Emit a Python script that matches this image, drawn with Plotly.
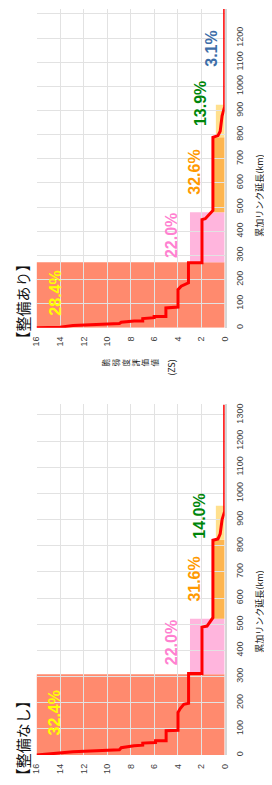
import plotly.graph_objects as go

# The page body has an 8px default margin, so the figure is drawn 8px in
# from the window edge: size it to fill the remaining 264x777 window area.
OFF = 8
W, H = 272 - OFF, 785 - OFF

# ---------------- data ----------------
zs_ticks = [0, 2, 4, 6, 8, 10, 12, 14, 16]
km_ticks = [0, 100, 200, 300, 400, 500, 600, 700, 800, 900, 1000, 1100, 1200, 1300]

# 整備あり (top chart): cumulative link length (km) vs vulnerability ZS
ari_zs = [16, 14, 12.9, 8.95, 8.8, 7.7, 6.97, 6.97, 6.0, 6.0, 5.0, 5.0, 3.97, 3.97,
          3.7, 3.43, 3.08, 3.08, 1.93, 1.93, 1.65, 1.0, 1.0, 0.57, 0.38, 0.22, 0.0, 0.0]
ari_km = [0, 2.5, 9.4, 17.6, 23, 28.5, 28.5, 38, 42, 47, 47, 82, 86, 158,
          172, 179, 186, 269, 269, 448, 452, 486, 789, 796, 814, 878, 916, 1340]

# 整備なし (bottom chart)
nashi_zs = [16, 14, 12.9, 8.95, 8.8, 7.7, 6.97, 6.97, 5.88, 5.88, 4.98, 4.98, 3.97, 3.97,
            3.78, 3.48, 3.07, 3.07, 1.93, 1.93, 1.5, 1.0, 1.0, 0.57, 0.38, 0.22, 0.0, 0.0]
nashi_km = [0, 6.4, 12.7, 20, 28, 35.5, 38, 45.7, 48, 54.6, 54.6, 92.8, 95, 163,
            178, 194, 198, 312, 312, 489, 493, 525, 821, 826, 846, 900, 931, 1340]

# shaded bands: km from, km to, ZS width
ari_band_km0 = [0, 271, 479, 789]
ari_band_km1 = [271, 479, 789, 924]
nashi_band_km0 = [0, 309, 521, 823]
nashi_band_km1 = [309, 521, 823, 953]
band_zs = [16, 2.95, 1.0, 0.75]

# percentage labels
ari_pct = ["28.4%", "22.0%", "32.6%", "13.9%", "3.1%"]
ari_pct_zs = [14.4, 4.5, 2.6, 2.07, 1.14]
ari_pct_km = [143, 383, 643, 928, 1157]
nashi_pct = ["32.4%", "22.0%", "31.6%", "14.0%"]
nashi_pct_zs = [14.5, 4.57, 2.6, 2.1]
nashi_pct_km = [160, 431, 671, 915]

titles = ["【整備あり】", "【整備なし】"]

# ---------------- styles ----------------
band_colors = ["#FF8A6E", "#FFB5DD", "#FDB550", "#FFE08E"]
pct_colors = ["#FFFF00", "#FF80D0", "#FF9900", "#00860A", "#3D6DA8"]
grid_c = "#E2E2E2"
tick_font = dict(family="Liberation Sans, Arial", size=9, color="#404040")

# pixel layout (window coordinates of the reference)
x_left, x_right = 32.5, 228.0
top_y0, top_scale = 327.6, 0.2420    # km 0 row and px per km (top chart)
bot_y0, bot_y1 = 756.0, 404.5        # bottom chart, km 0 and km 1340 rows


def py(p):
    return 1 - (p - OFF) / H


def px(p):
    return (p - OFF) / W


top_km_max = (top_y0 - OFF) / top_scale   # top chart reaches the top edge

fig = go.Figure()

fig.add_trace(go.Scatter(x=ari_zs, y=ari_km, mode="lines",
                         line=dict(color="#FF0000", width=3), xaxis="x", yaxis="y",
                         showlegend=False, hoverinfo="skip"))
fig.add_trace(go.Scatter(x=nashi_zs, y=nashi_km, mode="lines",
                         line=dict(color="#FF0000", width=3), xaxis="x2", yaxis="y2",
                         showlegend=False, hoverinfo="skip"))

shapes = []
for xr, yr, k0s, k1s in [("x", "y", ari_band_km0, ari_band_km1),
                         ("x2", "y2", nashi_band_km0, nashi_band_km1)]:
    for k0, k1, w, c in zip(k0s, k1s, band_zs, band_colors):
        shapes.append(dict(type="rect", xref=xr, yref=yr, x0=w, x1=0, y0=k0, y1=k1,
                           fillcolor=c, line=dict(width=0), layer="below"))

annotations = []
for xr, yr, labels, zs, km in [("x", "y", ari_pct, ari_pct_zs, ari_pct_km),
                               ("x2", "y2", nashi_pct, nashi_pct_zs, nashi_pct_km)]:
    for i, (t, z, k) in enumerate(zip(labels, zs, km)):
        annotations.append(dict(xref=xr, yref=yr, x=z, y=k, text=t, textangle=-90,
                                showarrow=False, xanchor="center", yanchor="middle",
                                font=dict(family="Liberation Sans, Arial", size=16,
                                          color=pct_colors[i], weight="bold")))

# chart titles
for t, cy in zip(titles, [301, 739]):
    annotations.append(dict(xref="paper", yref="paper", x=px(17.5), y=py(cy), text=t,
                            textangle=-90, showarrow=False, xanchor="center", yanchor="middle",
                            font=dict(family="Noto Sans CJK JP", size=15, color="#111111")))

# km axis titles
for cy in [195, 612]:
    annotations.append(dict(xref="paper", yref="paper", x=px(264), y=py(cy),
                            text="累加リンク延長(km)", textangle=-90, showarrow=False,
                            xanchor="center", yanchor="middle",
                            font=dict(family="Noto Sans CJK JP", size=9, color="#222222")))

# ZS axis titles (the bottom chart's sits below the window edge, as in the reference)
for off, extra in [(0, 0), (bot_y0 - top_y0, 6)]:
    annotations.append(dict(xref="paper", yref="paper", x=px(130), y=py(362 + off + extra),
                            text="<br>".join("脆弱度評価値"), textangle=-90, showarrow=False,
                            xanchor="center", yanchor="middle",
                            font=dict(family="Noto Sans CJK JP", size=7.5, color="#222222")))
    annotations.append(dict(xref="paper", yref="paper", x=px(172), y=py(367 + off),
                            text="(ZS)", textangle=-90, showarrow=False,
                            xanchor="center", yanchor="middle",
                            font=dict(family="Noto Sans CJK JP", size=9, color="#222222")))

xcommon = dict(domain=[px(x_left), px(x_right)], range=[16, 0], tickvals=zs_ticks,
               tickangle=-90, showgrid=True, gridcolor=grid_c, gridwidth=1,
               zeroline=False, showline=False, ticks="", tickfont=tick_font,
               ticklabelstandoff=6, fixedrange=True)
ycommon = dict(tickvals=km_ticks, side="right", tickangle=-90,
               showgrid=True, gridcolor=grid_c, gridwidth=1, zeroline=False,
               showline=True, linecolor="#D6D6D6", linewidth=2, ticks="",
               tickfont=tick_font, ticklabelstandoff=6, fixedrange=True)

fig.update_layout(
    width=W, height=H,
    margin=dict(l=0, r=0, t=0, b=0),
    paper_bgcolor="white", plot_bgcolor="white",
    xaxis=dict(anchor="y", **xcommon),
    yaxis=dict(anchor="x", domain=[py(top_y0), 1], range=[0, top_km_max], **ycommon),
    xaxis2=dict(anchor="y2", **xcommon),
    yaxis2=dict(anchor="x2", domain=[py(bot_y0), py(bot_y1)], range=[0, 1340], **ycommon),
    shapes=shapes,
    annotations=annotations,
    showlegend=False,
)

fig.write_html("out.html")
